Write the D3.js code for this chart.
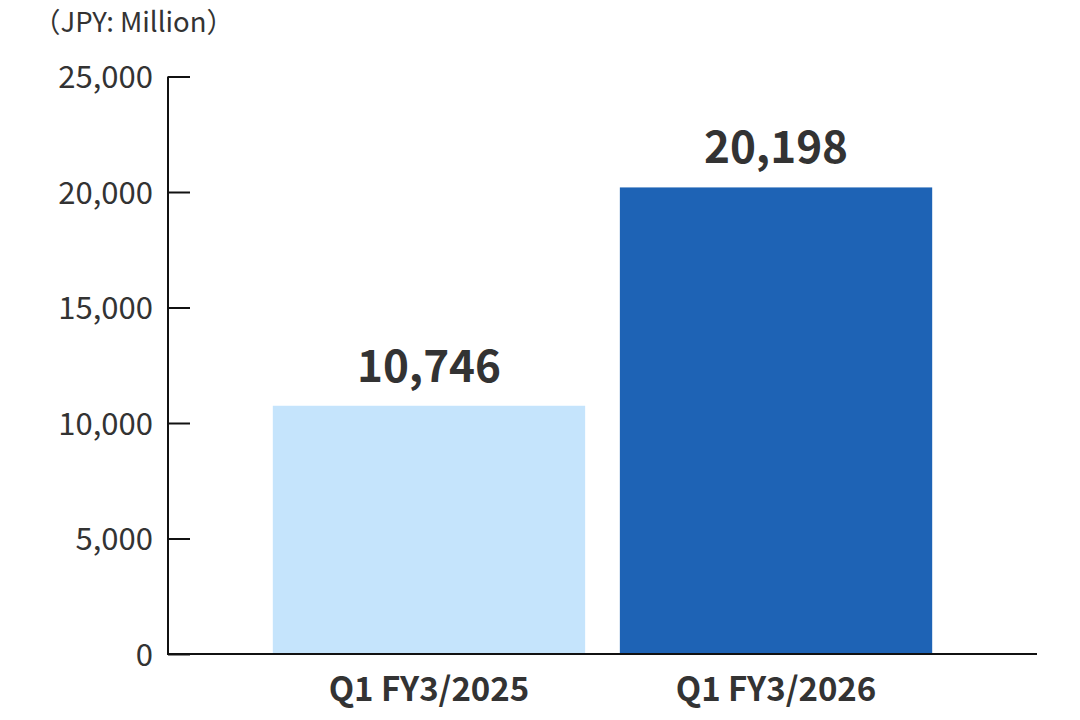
<!DOCTYPE html>
<html><head><meta charset="utf-8">
<script src="https://cdn.jsdelivr.net/npm/d3@7"></script>
<style>body{margin:0;background:#fff}svg{display:block}text{font-family:"Noto Sans CJK JP","Noto Sans",sans-serif}</style>
</head><body>
<svg id="c" width="1080" height="720"></svg>
<script>
const categories = ["Q1 FY3/2025", "Q1 FY3/2026"];
const values = [10746, 20198];
const barColors = ["#c5e4fc", "#1e63b5"];
const yTicks = [0, 5000, 10000, 15000, 20000, 25000];
const unitLabel = "（JPY: Million）";

const svg = d3.select("#c");
const x = d3.scaleBand().domain(categories).range([168, 1037]).paddingInner(0.1).paddingOuter(0.302);
const y = d3.scaleLinear().domain([0, 25000]).range([654, 76.5]);
const fmt = d3.format(",");

svg.selectAll("rect.bar").data(values).join("rect")
  .attr("x", (d,i) => x(categories[i])).attr("width", x.bandwidth())
  .attr("y", d => y(d)).attr("height", d => y(0) - y(d))
  .attr("fill", (d,i) => barColors[i]);

const yAxis = svg.append("g").attr("transform", "translate(168,0)")
  .call(d3.axisRight(y).tickValues(yTicks).tickSize(22).tickFormat(""));
yAxis.select(".domain").attr("d", `M0,${y(25000)}V${y(0)}`).attr("stroke", "#111").attr("stroke-width", 2);
yAxis.selectAll(".tick line").attr("stroke", "#111").attr("stroke-width", 2);

svg.selectAll("text.ytl").data(yTicks).join("text").attr("class","ytl")
  .attr("x", 153).attr("y", d => y(d)).attr("dy", "0.38em")
  .attr("text-anchor", "end").attr("font-size", 31).attr("fill", "#333")
  .text(d => fmt(d));

svg.append("line").attr("x1", 167).attr("x2", 1037).attr("y1", y(0)).attr("y2", y(0))
  .attr("stroke", "#111").attr("stroke-width", 2);

svg.selectAll("text.cat").data(categories).join("text").attr("class","cat")
  .attr("x", d => x(d) + x.bandwidth()/2).attr("y", 701)
  .attr("text-anchor", "middle").attr("font-size", 33).attr("font-weight", "bold").attr("fill", "#333")
  .text(d => d);

svg.selectAll("text.val").data(values).join("text").attr("class","val")
  .attr("x", (d,i) => x(categories[i]) + x.bandwidth()/2).attr("y", d => y(d) - 24)
  .attr("text-anchor", "middle").attr("font-size", 44).attr("font-weight", "bold").attr("fill", "#333")
  .text(d => fmt(d));

svg.append("text").attr("x", 33).attr("y", 32).attr("font-size", 27.5).attr("fill", "#333").text(unitLabel);
</script>
</body></html>
